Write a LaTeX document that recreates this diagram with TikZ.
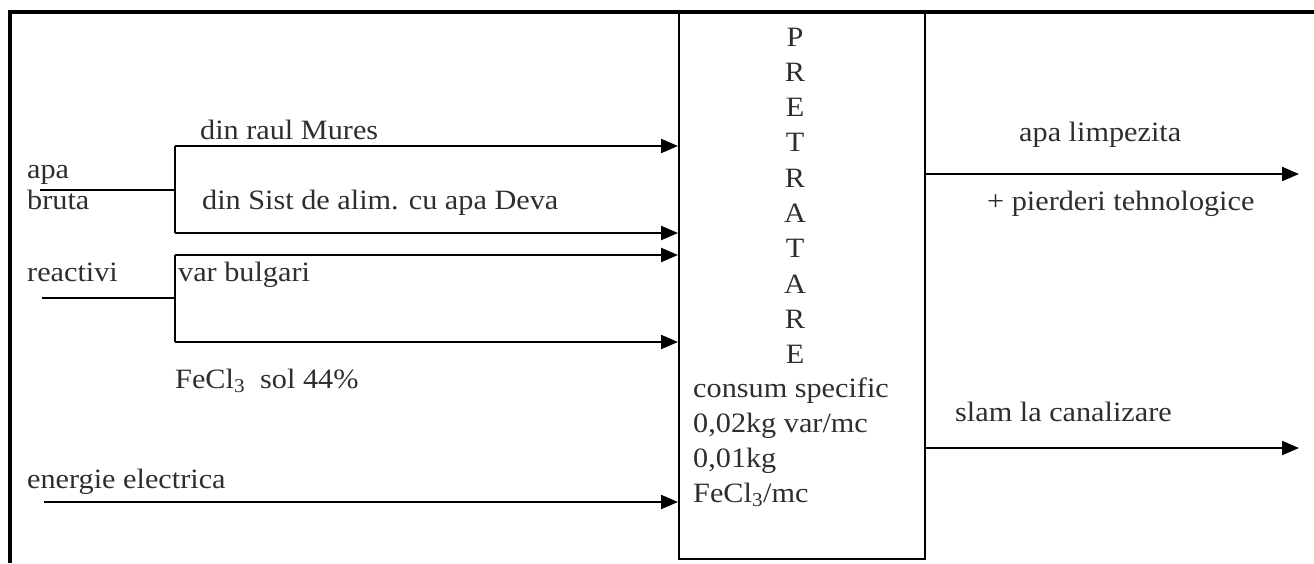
\documentclass[tikz,border=0pt]{standalone}
\usepackage{fontspec}
\setmainfont{Liberation Serif}[FakeStretch=1.08]
\usetikzlibrary{arrows.meta}
\definecolor{labelgray}{HTML}{2E2E2E}
\begin{document}
\begin{tikzpicture}[x=1pt,y=-1pt,
  lbl/.style={anchor=base west, inner sep=0pt, text=labelgray,
              font=\fontsize{28}{35}\selectfont},
  letter/.style={anchor=base, inner sep=0pt, text=labelgray,
              font=\fontsize{28}{35}\selectfont},
  wire/.style={line width=2.2pt},
  flow/.style={line width=2.2pt, -{Triangle[length=17pt,width=14pt]}},
  frameline/.style={line width=3.4pt}]
\useasboundingbox (0,0) rectangle (1314,563);

% page frame
\draw[frameline] (10,563) -- (10,12) -- (1314,12);

% process block
\node[draw, line width=2pt, inner sep=0pt, minimum width=246pt,
      minimum height=546pt, anchor=north west] (box) at (678,12) {};
\foreach \c [count=\i from 0] in {P,R,E,T,R,A,T,A,R,E}
  \node[letter] (L\i) at (795,46+35.3*\i) {\c};
\node[lbl] (c1) at (693,397) {consum specific};
\node[lbl] (c2) at (693,432) {0,02kg var/mc};
\node[lbl] (c3) at (693,467) {0,01kg};
\node[lbl] (c4) at (693,502) {FeCl\textsubscript{3}/mc};

% raw water inputs
\coordinate (bruta) at (40,190);
\coordinate (bj) at (175,190);
\coordinate (m1) at (175,146);
\coordinate (m2) at (175,233);
\draw[wire] (bruta) -- (bj);
\draw[wire] (m1) -- (m2);
\draw[flow] (m1) -- (m1 -| box.west);
\draw[flow] (m2) -- (m2 -| box.west);
\node[lbl] (apa) at (27,178) {apa};
\node[lbl] (bruta-t) at (27,209) {bruta};
\node[lbl] (mures) at (200,139) {din raul Mures};
\node[lbl] (deva) at (202,209) {din Sist de alim. cu apa Deva};

% reagent inputs
\coordinate (reac) at (42,298);
\coordinate (rj) at (175,298);
\coordinate (r1) at (175,255);
\coordinate (r2) at (175,342);
\draw[wire] (reac) -- (rj);
\draw[wire] (r1) -- (r2);
\draw[flow] (r1) -- (r1 -| box.west);
\draw[flow] (r2) -- (r2 -| box.west);
\node[lbl] (reactivi) at (27,281) {reactivi};
\node[lbl] (var) at (178,281) {var bulgari};
\node[lbl] (fecl) at (175,388) {FeCl\textsubscript{3}\ \ sol 44\%};

% electrical energy
\coordinate (en) at (44,502);
\draw[flow] (en) -- (en -| box.west);
\node[lbl] (energie) at (27,488) {energie electrica};

% outputs
\coordinate (out1) at (1299,174);
\coordinate (out2) at (1299,448);
\draw[flow] (out1 -| box.east) -- (out1);
\draw[flow] (out2 -| box.east) -- (out2);
\node[lbl] (limp) at (1019,141) {apa limpezita};
\node[lbl] (pierd) at (987,210) {+ pierderi tehnologice};
\node[lbl] (slam) at (955,421) {slam la canalizare};
\end{tikzpicture}
\end{document}
